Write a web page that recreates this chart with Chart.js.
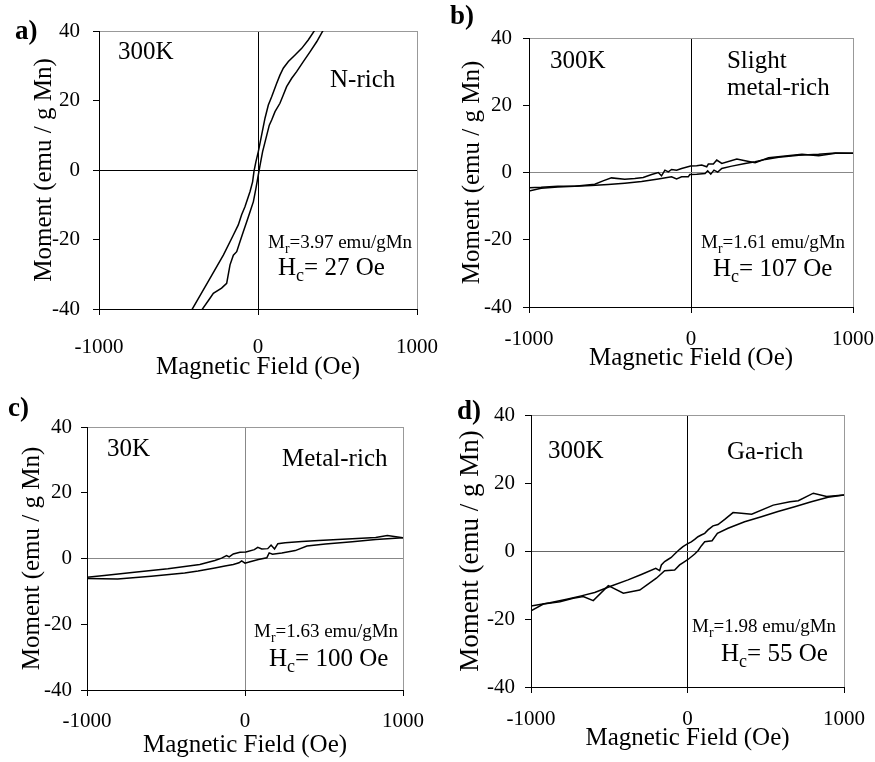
<!DOCTYPE html>
<html>
<head>
<meta charset="utf-8">
<script src="https://cdn.jsdelivr.net/npm/chart.js@4.4.1/dist/chart.umd.min.js"></script>
<style>
  body { margin: 0; background: #fff; }
  #wrap { position: relative; width: 875px; height: 762px; overflow: hidden; }
  canvas { position: absolute; }
  .tag { position: absolute; font: bold 27px 'Liberation Serif', 'Times New Roman', serif; line-height: 27px; color: #000; }
</style>
</head>
<body>
<div id="wrap">
  <canvas id="chartA" width="440" height="400" style="left:0;top:0"></canvas>
  <canvas id="chartB" width="435" height="400" style="left:440px;top:0"></canvas>
  <canvas id="chartC" width="440" height="382" style="left:0;top:380px"></canvas>
  <canvas id="chartD" width="435" height="382" style="left:440px;top:380px"></canvas>
  <div class="tag" style="left:15px;top:17px">a)</div>
  <div class="tag" style="left:450px;top:2px">b)</div>
  <div class="tag" style="left:8px;top:394px">c)</div>
  <div class="tag" style="left:457px;top:397px">d)</div>
</div>
<script>
// Campo (Oe) y momento (emu / g Mn), rama bajando y rama subiendo
const aDownH = [358, 316, 275, 233, 191, 159, 138, 117, 86, 65, 44, 23, 2, -13, -25, -34, -50, -82, -103, -124, -155, -218, -302, -417];
const aDownM = [40.3, 37.4, 35.0, 33.1, 31.2, 29.3, 27.3, 24.9, 21.1, 18.7, 14.9, 10.1, 5.3, 2.4, -0.3, -3.4, -6.2, -10.6, -12.9, -15.8, -18.7, -24.5, -31.2, -40.3];
const aUpH = [-354, -302, -281, -229, -197, -176, -155, -134, -113, -92, -71, -50, -29, -13, 2, 13, 29, 50, 71, 86, 107, 138, 159, 180, 212, 243, 285, 327, 369, 411];
const aUpM = [-40.3, -36.9, -35.5, -34.0, -32.6, -27.3, -24.5, -23.5, -20.6, -17.7, -14.9, -12.0, -9.1, -5.3, -1.4, 1.4, 5.3, 9.1, 12.9, 14.4, 16.8, 19.2, 21.6, 24.0, 26.4, 28.3, 31.2, 34.0, 36.9, 40.3];

const bDownH = [1000, 892, 788, 685, 582, 479, 396, 334, 283, 190, 159, 138, 107, 97, 66, 35, -2, -58, -89, -120, -140, -161, -182, -202, -243, -295, -347, -409, -491, -543, -594, -718, -822, -925, -1000];
const bDownM = [5.7, 5.7, 5.0, 5.4, 4.9, 4.4, 2.9, 3.5, 4.0, 2.7, 3.7, 2.5, 2.5, 1.7, 2.2, 2.0, 1.9, 1.2, 0.7, 0.9, 0.2, 0.7, -1.0, 0.0, -0.6, -1.5, -1.8, -2.0, -1.6, -2.5, -3.5, -4.1, -4.1, -4.4, -4.5];
const bUpH = [-1000, -925, -822, -718, -615, -512, -409, -305, -202, -120, -89, -58, -17, -7, 35, 87, 103, 122, 142, 165, 190, 252, 334, 396, 458, 541, 665, 788, 892, 1000];
const bUpM = [-5.5, -4.7, -4.3, -4.1, -3.9, -3.6, -3.2, -2.7, -1.9, -1.3, -1.9, -1.3, -1.3, -0.6, -0.5, -0.3, 0.5, -0.5, 0.7, 0.1, 1.2, 1.9, 2.7, 3.2, 3.9, 4.5, 5.1, 5.4, 5.8, 5.7];

const cDownH = [1000, 901, 827, 679, 466, 360, 254, 208, 187, 165, 144, 106, 81, 59, 6, -32, -74, -100, -117, -148, -191, -286, -488, -700, -891, -1000];
const cDownM = [6.3, 7.0, 6.4, 6.0, 5.5, 5.2, 4.8, 4.5, 2.9, 4.1, 3.0, 2.9, 3.4, 2.7, 2.0, 1.9, 1.4, 0.5, 0.9, 0.1, -0.6, -1.8, -3.1, -4.2, -5.2, -5.7];
const cUpH = [-1000, -806, -594, -382, -297, -191, -127, -74, -38, -21, 0, 32, 85, 138, 153, 174, 233, 318, 392, 509, 679, 827, 1000];
const cUpM = [-6.1, -6.2, -5.4, -4.4, -3.8, -2.9, -2.3, -1.8, -1.3, -0.7, -1.4, -1.0, -0.3, 0.2, 1.7, 1.3, 1.7, 2.4, 3.8, 4.4, 5.1, 5.8, 6.3];

const dDownH = [1000, 889, 804, 708, 655, 548, 410, 344, 291, 238, 195, 163, 131, 110, 88, 67, 46, 24, -1, -29, -50, -82, -104, -125, -146, -167, -178, -203, -295, -380, -487, -593, -679, -764, -879, -1000];
const dDownM = [16.5, 16.0, 17.0, 14.8, 14.5, 13.5, 10.8, 11.1, 11.3, 9.3, 7.8, 7.4, 6.2, 5.2, 4.7, 4.2, 3.4, 2.7, 2.1, 1.3, 0.5, -0.9, -1.9, -2.5, -3.1, -4.1, -5.8, -5.1, -6.9, -8.5, -10.3, -12.2, -13.2, -14.1, -15.2, -16.2];
const dUpH = [-1000, -921, -815, -730, -666, -602, -506, -410, -305, -199, -146, -82, -50, -18, 3, 46, 67, 88, 110, 157, 191, 259, 365, 472, 578, 685, 791, 898, 1000];
const dUpM = [-17.6, -15.6, -14.9, -13.9, -13.4, -14.6, -10.2, -12.4, -11.5, -8.0, -5.8, -5.6, -4.1, -3.1, -2.5, -0.9, 0.1, 1.5, 2.7, 3.0, 5.2, 6.7, 8.6, 10.1, 11.6, 13.0, 14.5, 15.8, 16.5];

// Ticks de los ejes
const fieldTicks = [-1000, 0, 1000];
const momentTicks = [-40, -20, 0, 20, 40];

const SERIF = "'Liberation Serif', 'Times New Roman', serif";
const FRAME = '#999';
Chart.defaults.font.family = SERIF;
Chart.defaults.color = '#000';

const toPoints = (hs, ms) => hs.map((h, i) => ({ x: h, y: ms[i] }));

// Textos dentro del gráfico, en coordenadas de datos
const notesPlugin = (notes) => ({
  id: 'notes',
  afterDatasetsDraw(chart) {
    const { ctx, scales: { x, y } } = chart;
    ctx.save();
    ctx.fillStyle = '#000';
    ctx.textBaseline = 'middle';
    notes.forEach(n => {
      let px = x.getPixelForValue(n.x);
      const py = y.getPixelForValue(n.y);
      n.parts.forEach(([txt, sub]) => {
        const size = sub ? n.size * 0.72 : n.size;
        ctx.font = `${size}px ${SERIF}`;
        ctx.fillText(txt, px, sub ? py + n.size * 0.32 : py);
        px += ctx.measureText(txt).width;
      });
    });
    ctx.restore();
  }
});

const makePanel = (id, down, up, notes, lay) => new Chart(document.getElementById(id), {
  type: 'line',
  data: {
    datasets: [
      { data: down, borderColor: '#000', borderWidth: 1.5, pointRadius: 0, tension: 0, fill: false },
      { data: up, borderColor: '#000', borderWidth: 1.5, pointRadius: 0, tension: 0, fill: false }
    ]
  },
  options: {
    responsive: false,
    animation: false,
    events: [],
    layout: { padding: { top: lay.top, right: lay.right, bottom: 0, left: 0 } },
    plugins: { legend: { display: false }, tooltip: { enabled: false } },
    scales: {
      x: {
        type: 'linear', min: -1000, max: 1000,
        afterFit: s => { s.height = lay.xh; s.paddingLeft = 0; s.paddingRight = 0; },
        afterBuildTicks: s => { s.ticks = fieldTicks.map(v => ({ value: v })); },
        ticks: { padding: lay.xpad, font: { size: 21 }, color: '#000', callback: v => String(v) },
        grid: {
          color: c => c.tick.value === 0 ? lay.zeroV : (c.tick.value === 1000 ? FRAME : 'transparent'),
          tickColor: '#000', tickLength: 6, lineWidth: 1
        },
        border: { color: '#000', width: 1 },
        title: { display: true, text: 'Magnetic Field (Oe)', font: { size: 25 }, color: '#000', padding: { top: 0, bottom: lay.xtitle } }
      },
      y: {
        min: -40, max: 40,
        afterFit: s => { s.width = lay.left; s.paddingTop = 0; s.paddingBottom = 0; },
        afterBuildTicks: s => { s.ticks = momentTicks.map(v => ({ value: v })); },
        ticks: { padding: lay.ypad, font: { size: 21 }, color: '#000', callback: v => String(v) },
        grid: {
          color: c => c.tick.value === 0 ? lay.zeroH : (c.tick.value === 40 ? FRAME : 'transparent'),
          tickColor: '#000', tickLength: 6, lineWidth: 1
        },
        border: { color: '#000', width: 1 },
        title: { display: true, text: 'Moment (emu / g Mn)', font: { size: lay.ysize }, color: '#000', padding: { top: lay.ytitle, bottom: 0 } }
      }
    }
  },
  plugins: [notesPlugin(notes)]
});

makePanel('chartA', toPoints(aDownH, aDownM), toPoints(aUpH, aUpM), [
  { x: -880, y: 33.7, size: 25, parts: [['300K']] },
  { x: 453, y: 25.9, size: 25, parts: [['N-rich']] },
  { x: 63, y: -21.0, size: 19, parts: [['M'], ['r', true], ['=3.97 emu/gMn']] },
  { x: 126, y: -28.2, size: 25, parts: [['H'], ['c', true], ['= 27 Oe']] }
], { top: 31, right: 23, left: 99, xh: 91, xpad: 20, ypad: 13, xtitle: 18, ytitle: 29, ysize: 25, zeroH: '#000', zeroV: '#000' });

makePanel('chartB', toPoints(bDownH, bDownM), toPoints(bUpH, bUpM), [
  { x: -870, y: 33.0, size: 25, parts: [['300K']] },
  { x: 222, y: 33.0, size: 25, parts: [['Slight']] },
  { x: 222, y: 25.0, size: 25, parts: [['metal-rich']] },
  { x: 62, y: -21.1, size: 19, parts: [['M'], ['r', true], ['=1.61 emu/gMn']] },
  { x: 136, y: -28.8, size: 25, parts: [['H'], ['c', true], ['= 107 Oe']] }
], { top: 38, right: 22, left: 89, xh: 93, xpad: 14, ypad: 11, xtitle: 27, ytitle: 17, ysize: 25, zeroH: '#888', zeroV: '#000' });

makePanel('chartC', toPoints(cDownH, cDownM), toPoints(cUpH, cUpM), [
  { x: -873, y: 33.3, size: 25, parts: [['30K']] },
  { x: 234, y: 30.0, size: 25, parts: [['Metal-rich']] },
  { x: 57, y: -22.4, size: 19, parts: [['M'], ['r', true], ['=1.63 emu/gMn']] },
  { x: 152, y: -30.6, size: 25, parts: [['H'], ['c', true], ['= 100 Oe']] }
], { top: 47, right: 37, left: 87, xh: 72, xpad: 13, ypad: 9, xtitle: 2, ytitle: 17, ysize: 25, zeroH: '#888', zeroV: '#888' });

makePanel('chartD', toPoints(dDownH, dDownM), toPoints(dUpH, dUpM), [
  { x: -891, y: 29.4, size: 25, parts: [['300K']] },
  { x: 252, y: 29.1, size: 25, parts: [['Ga-rich']] },
  { x: 29, y: -22.4, size: 19, parts: [['M'], ['r', true], ['=1.98 emu/gMn']] },
  { x: 214, y: -30.3, size: 25, parts: [['H'], ['c', true], ['= 55 Oe']] }
], { top: 35, right: 31, left: 91, xh: 75, xpad: 14, ypad: 10, xtitle: 9, ytitle: 15, ysize: 27, zeroH: '#666', zeroV: '#000' });
</script>
</body>
</html>
